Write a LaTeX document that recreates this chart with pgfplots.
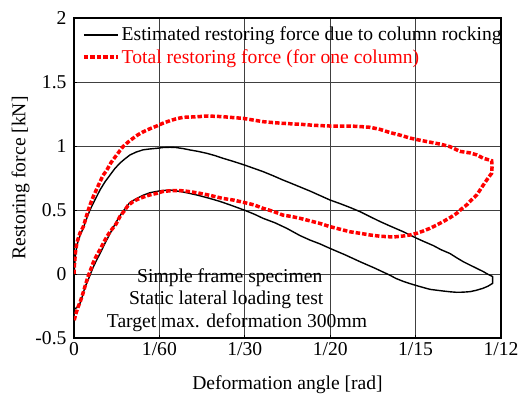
\documentclass[border=0pt]{standalone}
\usepackage{fontspec}
\setmainfont{Liberation Serif}
\usepackage{pgfplots}
\pgfplotsset{compat=1.18}
\pgfdeclarelayer{whiteout}
\pgfplotsset{
  layers/with whiteout/.define layer set={
    axis background,axis grid,whiteout,axis ticks,axis lines,
    axis tick labels,main,axis descriptions,axis foreground}{},
}
\newcommand\fs{\fontsize{19.6}{22}\selectfont}
\begin{document}
\begin{tikzpicture}
\begin{axis}[
  name=ax,
  set layers=with whiteout,
  width=427pt, height=320pt, scale only axis,
  xmin=0, xmax=83.3333, ymin=-0.5, ymax=2,
  xtick={0,16.6667,33.3333,50,66.6667,83.3333},
  xticklabels={0,1/60,1/30,1/20,1/15,1/12},
  ytick={-0.5,0,0.5,1,1.5,2},
  yticklabels={-0.5,0,0.5,1,1.5,2},
  tick pos=left,
  grid=major,
  grid style={black!75, line width=0.9pt},
  axis line style={black, line width=1.3pt},
  tick style={black, line width=0.9pt},
  major tick length=3pt,
  tick align=inside,
  ticklabel style={font=\fs},
  yticklabel style={xshift=-4pt},
  xticklabel style={yshift=-1pt},
  label style={font=\fs},
  xlabel={Deformation angle [rad]},
  ylabel={Restoring force [kN]},
  xlabel style={yshift=-13pt},
  ylabel style={yshift=-1pt},
  legend cell align=left,
  legend style={at={(axis description cs:0,1)}, anchor=north west,
    draw=none, fill=none, font=\fs, row sep=3pt,
    inner xsep=8pt, inner ysep=7pt},
  legend image code/.code={\draw[#1] (0pt,0pt) -- (34pt,0pt);},
]
% white areas behind the legend and the note
\begin{pgfonlayer}{whiteout}
  \fill[white] (axis cs:0,1.57) rectangle (axis cs:83.3333,2);
  \fill[white] (axis cs:5.85,-0.5) rectangle (axis cs:53.28,0.086);
\end{pgfonlayer}

% restoring force due to column rocking (x in mrad)
\addplot[black, line width=1.4pt, line join=round] coordinates {
(0,0.00) (0.29,0.15) (0.59,0.23) (1.17,0.30) (1.82,0.36) (2.34,0.42) (3.12,0.50)
(4.10,0.58) (5.07,0.656) (6.05,0.72) (7.03,0.773) (8.00,0.825) (8.98,0.867)
(9.95,0.90) (10.93,0.93) (12.10,0.952) (13.47,0.97) (14.83,0.977) (16.14,0.982)
(17.37,0.988) (18.74,0.99) (19.91,0.988) (21.27,0.98) (22.64,0.969) (24.20,0.958)
(25.90,0.943) (27.52,0.925) (29.08,0.904) (31.23,0.878) (33.37,0.85) (35.13,0.825)
(36.89,0.80) (38.84,0.768) (40.79,0.734) (42.54,0.706) (44.11,0.68) (46.06,0.648)
(47.62,0.620) (49.96,0.578) (51.91,0.55) (53.86,0.52) (55.82,0.487) (57.77,0.448)
(59.72,0.41) (61.67,0.375) (64.27,0.33) (66.88,0.279) (68.50,0.25) (70.12,0.222)
(71.62,0.19) (73.38,0.16) (74.75,0.125) (75.98,0.096) (77.28,0.07) (78.59,0.044)
(79.82,0.02) (80.86,-0.004) (81.71,-0.02) (81.71,-0.073) (80.80,-0.095)
(79.80,-0.112) (78.45,-0.128) (77.28,-0.138) (75.92,-0.142) (74.69,-0.143)
(73.38,-0.139) (72.07,-0.133) (70.65,-0.126) (69.48,-0.12) (68.11,-0.105)
(66.88,-0.091) (65.57,-0.075) (64.27,-0.058) (62.84,-0.035) (61.67,-0.01)
(58.74,0.045) (55.82,0.096) (52.89,0.15) (49.96,0.20) (48.01,0.235) (46.06,0.265)
(44.11,0.30) (41.51,0.357) (39.23,0.40) (36.89,0.435) (35.32,0.465) (33.37,0.497)
(31.81,0.52) (30.44,0.54) (28.49,0.567) (26.54,0.59) (24.20,0.615) (21.99,0.635)
(20.69,0.645) (18.74,0.656) (16.78,0.65) (14.83,0.635) (13.47,0.615) (12.24,0.59)
(10.93,0.56) (10.29,0.526) (9.56,0.49) (8.59,0.43) (7.61,0.36) (6.83,0.30)
(6.05,0.24) (5.21,0.17) (4.43,0.11) (3.71,0.05) (3.12,-0.01) (2.63,-0.06)
(2.15,-0.10) (1.66,-0.17) (1.17,-0.23) (0.59,-0.262) (0.20,-0.27) (0,-0.28)
};
\addlegendentry{Estimated restoring force due to column rocking}

% total restoring force for one column
\addplot[red, line width=3.5pt, dash pattern=on 4.5pt off 2pt] coordinates {
(0,0.00) (0.10,0.08) (0.29,0.17) (0.59,0.25) (1.17,0.32) (1.82,0.37) (2.34,0.44)
(2.79,0.50) (3.32,0.56) (3.71,0.60) (4.39,0.66) (5.07,0.72) (5.66,0.77) (6.38,0.81)
(7.22,0.87) (8.33,0.93) (8.98,0.965) (9.56,0.995) (10.54,1.03) (11.51,1.06)
(12.49,1.088) (13.47,1.11) (14.83,1.135) (16.14,1.156) (17.37,1.178) (18.74,1.198)
(19.91,1.212) (21.27,1.224) (22.64,1.226) (24.20,1.229) (25.90,1.234) (27.52,1.232)
(29.08,1.229) (31.03,1.222) (32.98,1.216) (34.93,1.203) (36.89,1.19) (38.84,1.183)
(40.79,1.177) (42.54,1.173) (44.11,1.17) (46.06,1.164) (47.62,1.16) (49.96,1.156)
(51.91,1.156) (53.86,1.156) (55.82,1.152) (57.77,1.146) (59.72,1.13) (61.67,1.105)
(63.62,1.085) (65.57,1.062) (67.53,1.045) (69.48,1.03) (71.43,1.015) (73.38,0.995)
(75.33,0.958) (77.28,0.946) (78.65,0.93) (79.88,0.904) (81.52,0.885) (81.58,0.83)
(81.52,0.787) (80.99,0.76) (80.54,0.734) (79.63,0.68) (78.59,0.617) (77.48,0.575)
(76.64,0.54) (75.53,0.505) (74.69,0.474) (73.38,0.44) (72.07,0.41) (70.65,0.38)
(69.48,0.357) (68.11,0.335) (66.88,0.318) (65.57,0.305) (64.27,0.297) (62.31,0.289)
(59.72,0.295) (57.77,0.305) (55.82,0.318) (53.86,0.33) (51.91,0.35) (49.96,0.37)
(48.01,0.395) (46.06,0.415) (44.11,0.435) (42.35,0.45) (40.79,0.46) (38.84,0.49)
(36.89,0.513) (35.13,0.54) (33.37,0.557) (31.23,0.577) (29.08,0.59) (27.52,0.605)
(25.90,0.62) (24.20,0.633) (22.64,0.643) (21.27,0.65) (19.91,0.652) (18.74,0.65)
(17.37,0.645) (16.14,0.63) (14.83,0.618) (13.47,0.60) (12.49,0.585) (11.51,0.565)
(10.54,0.535) (9.76,0.49) (8.98,0.45) (8.20,0.39) (7.03,0.33) (6.38,0.29)
(5.07,0.19) (4.29,0.135) (3.71,0.085) (3.22,0.03) (2.73,-0.02) (2.24,-0.085)
(1.76,-0.15) (1.27,-0.21) (0.78,-0.26) (0.29,-0.32) (0,-0.37)
};
\addlegendentry{\textcolor{red}{Total restoring force (for one column)}}

% test description
\node[font=\fs, anchor=base] at (axis cs:30.4,-0.07) {Simple frame specimen};
\node[font=\fs, anchor=base] at (axis cs:29.7,-0.242) {Static lateral loading test};
\node[font=\fs, anchor=base] at (axis cs:31.8,-0.42) {Target max. deformation 300mm};
\end{axis}
\path (ax.south west) ++(-74pt,-56pt) coordinate (bbl);
\path (ax.north east) ++(17pt,18pt) coordinate (btr);
\pgfresetboundingbox
\useasboundingbox (bbl) rectangle (btr);
\end{tikzpicture}
\end{document}
